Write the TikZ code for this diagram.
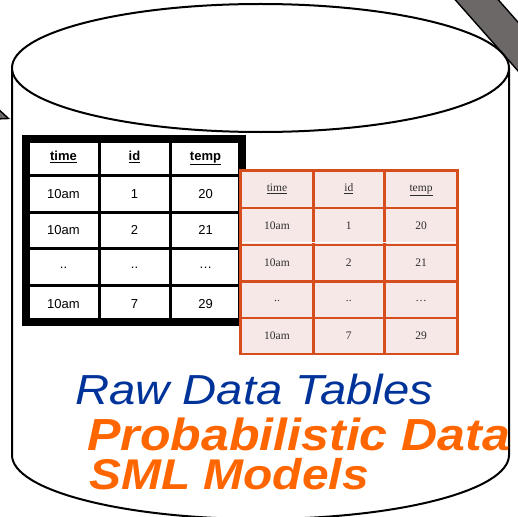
\documentclass[tikz,border=0pt]{standalone}
\usepackage{fontspec}
\usepackage{graphicx}
\setmainfont{Liberation Sans}
\newfontfamily\cellserif{Liberation Serif}
\definecolor{bandgray}{RGB}{107,104,103}
\definecolor{rawblue}{RGB}{0,51,153}
\definecolor{probor}{RGB}{255,102,0}
\definecolor{gridor}{RGB}{214,78,30}
\definecolor{cellpink}{RGB}{246,232,231}
\definecolor{celltext}{RGB}{45,45,45}
\tikzset{
  outline/.style={draw=black, line width=2pt},
  arrowband/.style={fill=bandgray, draw=black, line width=1.4pt, line join=miter},
  blackcell/.style={anchor=base, inner sep=0pt, font=\fontsize{13}{15}\selectfont},
  orangecell/.style={anchor=base, inner sep=0pt, text=celltext, font=\cellserif\fontsize{11.5}{13}\selectfont},
  orangegrid/.style={draw=gridor, line width=2.8pt},
  bigtext/.style={anchor=base west, inner sep=0pt}
}
\begin{document}
\begin{tikzpicture}[x=1pt,y=-1pt]
\useasboundingbox (0,0) rectangle (518,516);
\begin{scope}
  \clip (0,0) rectangle (518,516);
  % arrow shafts passing behind the drum
  \draw[arrowband] (451,-5) -- (531,85.6) -- (574,85.6) -- (494,-5) -- cycle;
  \draw[arrowband] (-4,107) -- (8.5,118.5) -- (-4,119) -- cycle;

  % drum body
  \path[fill=white] (12,68) -- (12,455)
     arc[start angle=180, end angle=0, x radius=248.5, y radius=64] -- (509,68) -- cycle;
  \draw[outline] (12,68) -- (12,455)
     arc[start angle=180, end angle=0, x radius=248.5, y radius=64] -- (509,68);
  \draw[outline, fill=white] (260.5,68) ellipse [x radius=248.5, y radius=64];
\end{scope}

% raw table (black grid)
\fill[black] (22,135) rectangle (246,326);
\foreach \xa/\xb in {30/98,101/169,172/238}
  \foreach \ya/\yb in {143/174,177/211,214/247,250/284,287/318}
    \fill[white] (\xa,\ya) rectangle (\xb,\yb);

\node[blackcell] (bh1) at (63.5,160.5) {\textbf{\underline{time}}};
\node[blackcell] (bh2) at (134.5,160.5) {\textbf{\underline{id}}};
\node[blackcell] (bh3) at (205.5,160.5) {\textbf{\underline{temp}}};
\node[blackcell] (b11) at (63.5,198) {10am};
\node[blackcell] (b12) at (134.5,198) {1};
\node[blackcell] (b13) at (205.5,198) {20};
\node[blackcell] (b21) at (63.5,234.7) {10am};
\node[blackcell] (b22) at (134.5,234.7) {2};
\node[blackcell] (b23) at (205.5,234.7) {21};
\node[blackcell] (b31) at (63.5,268.5) {..};
\node[blackcell] (b32) at (134.5,268.5) {..};
\node[blackcell] (b33) at (205.5,268.5) {\ldots};
\node[blackcell] (b41) at (63.5,308) {10am};
\node[blackcell] (b42) at (134.5,308) {7};
\node[blackcell] (b43) at (205.5,308) {29};

% probabilistic table (orange grid)
\fill[cellpink] (240.7,170.7) rectangle (457.7,354);
\foreach \yy in {170.7,208,245,281.3,318,354}
  \draw[orangegrid] (239.3,\yy) -- (459.1,\yy);
\foreach \xx in {240.7,313.3,384.3,457.7}
  \draw[orangegrid] (\xx,169.3) -- (\xx,355.4);
\draw[white, line width=1pt] (242,242.6) -- (456.3,242.6);

\node[orangecell] (oh1) at (277,191.7) {\underline{time}};
\node[orangecell] (oh2) at (348.8,191.7) {\underline{id}};
\node[orangecell] (oh3) at (421,191.7) {\underline{temp}};
\node[orangecell] (o11) at (277,229.3) {10am};
\node[orangecell] (o12) at (348.8,229.3) {1};
\node[orangecell] (o13) at (421,229.3) {20};
\node[orangecell] (o21) at (277,266) {10am};
\node[orangecell] (o22) at (348.8,266) {2};
\node[orangecell] (o23) at (421,266) {21};
\node[orangecell] (o31) at (277,301) {..};
\node[orangecell] (o32) at (348.8,301) {..};
\node[orangecell] (o33) at (421,301) {\ldots};
\node[orangecell] (o41) at (277,339.3) {10am};
\node[orangecell] (o42) at (348.8,339.3) {7};
\node[orangecell] (o43) at (421,339.3) {29};

% captions
\node[bigtext, text=rawblue] (raw) at (75,404.5)
  {\scalebox{1.125}[1]{\fontsize{42}{48}\selectfont\itshape Raw Data Tables}};
\node[bigtext, text=probor] (prob) at (87,450)
  {\scalebox{1.113}[1]{\fontsize{45}{50}\selectfont\bfseries\itshape Probabilistic Data}};
\node[bigtext, text=probor] (sml) at (89,489)
  {\scalebox{1.115}[1]{\fontsize{43}{48}\selectfont\bfseries\itshape SML Models}};
\end{tikzpicture}
\end{document}
